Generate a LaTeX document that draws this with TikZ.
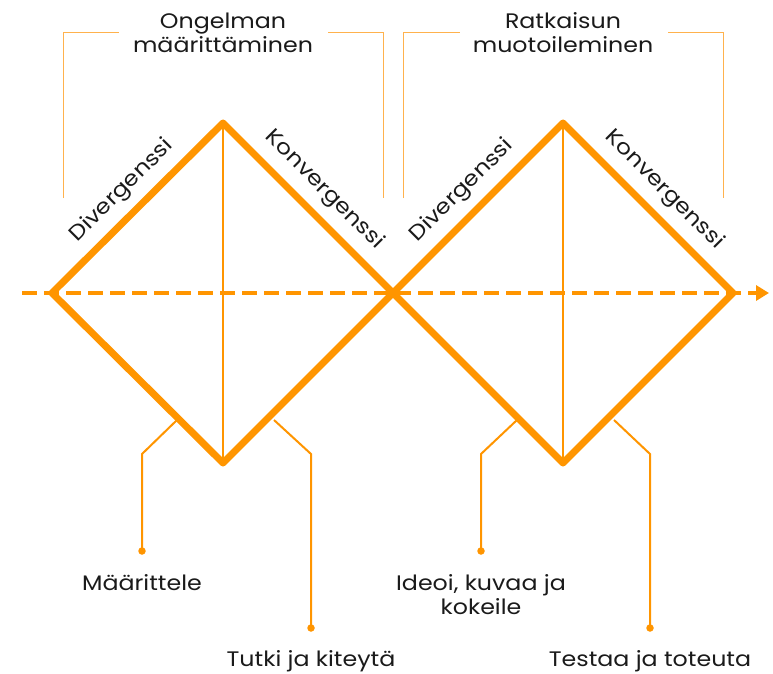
\documentclass[tikz,border=0pt]{standalone}
\usepackage{fontspec}
\setmainfont{Poppins}[FakeStretch=1.13]
\usetikzlibrary{arrows.meta}
\definecolor{accent}{HTML}{FF9500}
\definecolor{bracketc}{HTML}{FFB24D}
\definecolor{ink}{HTML}{1A1A1A}
\tikzset{
  edge/.style={accent, line width=7pt, line join=round, line cap=round},
  axis/.style={accent, line width=2.5pt},
  flow/.style={accent, line width=4.5pt, dash pattern=on 15pt off 7pt,
               -{Triangle[length=13pt,width=15pt]}},
  leader/.style={accent, line width=2pt},
  bracket/.style={bracketc, line width=1pt},
  dot/.style={circle, fill=accent, inner sep=0pt, minimum size=7.5pt},
  phase/.style={ink, font=\fontsize{21}{24}\selectfont, align=center, inner sep=0pt},
  lbl/.style={ink, font=\fontsize{21}{24}\selectfont, align=center, inner sep=0pt},
}
\begin{document}
\begin{tikzpicture}[x=1pt, y=-1pt]
\useasboundingbox (0,0) rectangle (773,674);

% vertices of the two diamonds
\coordinate (L1) at (52,293);  \coordinate (T1) at (223,123);
\coordinate (B1) at (223,463); \coordinate (M)  at (393,293);
\coordinate (T2) at (563,123); \coordinate (B2) at (563,463);
\coordinate (R2) at (733,293);

% dashed process flow
\coordinate (fs) at (22,293);
\coordinate (fe) at (769,293);
\draw[flow] (fs) -- (fe);

% diamonds
\draw[edge] (L1) -- (T1) -- (M) -- (B1) -- cycle;
\draw[edge] (M) -- (T2) -- (R2) -- (B2) -- cycle;
\draw[axis] (T1) -- (B1);
\draw[axis] (T2) -- (B2);

% phase titles with brackets
\node[phase] (p1) at (223,33) {Ongelman\\määrittäminen};
\node[phase] (p2) at (563,33) {Ratkaisun\\muotoileminen};
\coordinate (a1) at (63,198);  \coordinate (a2) at (63,33);  \coordinate (a3) at (119,33);
\coordinate (a4) at (328,33);  \coordinate (a5) at (383,33); \coordinate (a6) at (383,198);
\draw[bracket] (a1) -- (a2) -- (a3);
\draw[bracket] (a4) -- (a5) -- (a6);
\coordinate (b1) at (403,198); \coordinate (b2) at (403,33); \coordinate (b3) at (460,33);
\coordinate (b4) at (668,33);  \coordinate (b5) at (723,33); \coordinate (b6) at (723,198);
\draw[bracket] (b1) -- (b2) -- (b3);
\draw[bracket] (b4) -- (b5) -- (b6);

% edge labels
\node[lbl, rotate=45]  (d1) at (122,191) {Divergenssi};
\node[lbl, rotate=-45] (k1) at (324,190) {Konvergenssi};
\node[lbl, rotate=45]  (d2) at (462,191) {Divergenssi};
\node[lbl, rotate=-45] (k2) at (664,190) {Konvergenssi};

% callouts
\coordinate (c1a) at (177,420); \coordinate (c1b) at (142,454);
\node[dot] (e1) at (142,551) {};
\draw[leader] (c1a) -- (c1b) -- (e1.center);
\coordinate (c2a) at (274,420); \coordinate (c2b) at (311,454);
\node[dot] (e2) at (311,628) {};
\draw[leader] (c2a) -- (c2b) -- (e2.center);
\coordinate (c3a) at (517,420); \coordinate (c3b) at (481,454);
\node[dot] (e3) at (481,551) {};
\draw[leader] (c3a) -- (c3b) -- (e3.center);
\coordinate (c4a) at (614,420); \coordinate (c4b) at (650,454);
\node[dot] (e4) at (650,628) {};
\draw[leader] (c4a) -- (c4b) -- (e4.center);

\node[lbl] (t1) at (142,583) {Määrittele};
\node[lbl] (t2) at (311,661) {Tutki ja kiteytä};
\node[lbl] (t3) at (481,595) {Ideoi, kuvaa ja\\kokeile};
\node[lbl] (t4) at (650,661) {Testaa ja toteuta};
\end{tikzpicture}
\end{document}
